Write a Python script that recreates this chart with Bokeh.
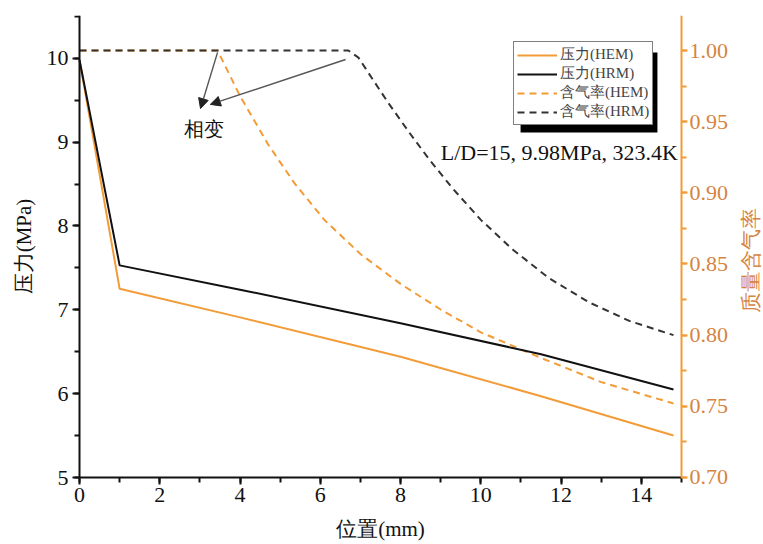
import math
from bokeh.plotting import figure
from bokeh.models import (Range1d, LinearAxis, SingleIntervalTicker, NumeralTickFormatter,
                          Legend, LegendItem, Label, Arrow, NormalHead, BoxAnnotation)
from bokeh.embed import file_html
from bokeh.resources import INLINE

# ---- data ----
x_p_hem = [0, 1, 4, 8, 11.5, 14.8]
p_hem = [9.98, 7.25, 6.91, 6.44, 5.97, 5.50]
x_p_hrm = [0, 1, 4, 8, 11.5, 14.8]
p_hrm = [9.98, 7.53, 7.24, 6.84, 6.47, 6.05]
x_q_hem = [0, 3.44, 4.0, 4.7, 5.35, 6.1, 7.0, 8.0, 9.0, 10.0, 11.5, 13.0, 14.8]
q_hem = [1.0, 1.0, 0.968, 0.934, 0.907, 0.881, 0.857, 0.836, 0.818, 0.802, 0.784, 0.767, 0.752]
x_q_hrm = [0, 6.7, 6.95, 7.3, 7.7, 8.2, 8.7, 9.3, 10.0, 10.8, 11.7, 12.7, 13.7, 14.8]
q_hrm = [1.0, 1.0, 0.995, 0.980, 0.963, 0.943, 0.924, 0.903, 0.881, 0.860, 0.840, 0.823, 0.810, 0.800]
series_labels = ["压力(HEM)", "压力(HRM)", "含气率(HEM)", "含气率(HRM)"]
x_label = "位置(mm)"
y_label = "压力(MPa)"
y2_label = "质量含气率"
note_text = "L/D=15, 9.98MPa, 323.4K"
phase_text = "相变"
x_min, x_max = 0, 15
p_min, p_max = 5, 10.51
q_min, q_max = 0.7, 1.0246

FONT = "Liberation Serif"
ORANGE = "#F39B37"
ORANGE_TXT = "#D6843F"
BLACK = "#111111"
DARK = "#333333"

# the frame covers the whole canvas below the top margin; axes are pinned at x=0, x=15 and p=5
p = figure(width=763, height=544, output_backend="svg", toolbar_location=None,
           x_range=Range1d(-1.9686, 17.043), y_range=Range1d(4.201, p_max),
           min_border_left=0, min_border_right=0, min_border_top=15, min_border_bottom=0)
p.extra_y_ranges = {"q": Range1d(0.6529, q_max)}
p.grid.visible = False
p.outline_line_color = None
p.background_fill_color = "white"
p.border_fill_color = "white"

def style_axis(ax, color, label_color):
    ax.axis_line_color = color
    ax.axis_line_width = 2
    ax.major_tick_line_color = color
    ax.major_tick_line_width = 2
    ax.minor_tick_line_color = color
    ax.minor_tick_line_width = 2
    ax.major_tick_in = 0
    ax.major_tick_out = 7
    ax.minor_tick_in = 0
    ax.minor_tick_out = 5
    ax.major_label_text_font = FONT
    ax.major_label_text_font_size = "22px"
    ax.major_label_text_color = label_color
    ax.axis_label_text_font = FONT
    ax.axis_label_text_font_size = "21px"
    ax.axis_label_text_font_style = "normal"
    ax.axis_label_text_color = label_color

xa = p.xaxis[0]
xa.ticker = SingleIntervalTicker(interval=2, num_minor_ticks=2)
xa.bounds = (x_min, x_max)
xa.fixed_location = p_min
xa.axis_label = x_label
style_axis(xa, BLACK, BLACK)
xa.major_label_standoff = 3
xa.axis_label_standoff = 12

ya = p.yaxis[0]
ya.ticker = SingleIntervalTicker(interval=1, num_minor_ticks=2)
ya.bounds = (p_min, p_max)
ya.fixed_location = x_min
ya.axis_label = y_label
style_axis(ya, BLACK, BLACK)
ya.major_label_standoff = 4
ya.axis_label_standoff = 8

ra = LinearAxis(y_range_name="q", ticker=SingleIntervalTicker(interval=0.05, num_minor_ticks=2),
                formatter=NumeralTickFormatter(format="0.00"), fixed_location=x_max,
                bounds=(q_min, q_max))
style_axis(ra, ORANGE, ORANGE_TXT)
ra.major_tick_out = 6
ra.major_label_standoff = 2
p.add_layout(ra, "right")

# right-axis title, reading bottom-to-top
p.add_layout(Label(x=16.72, y=7.59, text=y2_label, angle=math.pi / 2,
                   text_align="center", text_baseline="middle",
                   text_font=FONT, text_font_size="21px", text_color=ORANGE_TXT))

r_qhem = p.line(x_q_hem, q_hem, y_range_name="q", line_color=ORANGE, line_width=2, line_dash="7 5")
r_qhrm = p.line(x_q_hrm, q_hrm, y_range_name="q", line_color=DARK, line_width=2, line_dash="7 5")
r_phem = p.line(x_p_hem, p_hem, line_color=ORANGE, line_width=2)
r_phrm = p.line(x_p_hrm, p_hrm, line_color=BLACK, line_width=2)

# annotations
p.add_layout(Arrow(end=NormalHead(size=10, fill_color="#222", line_color="#222"),
                   x_start=3.44, y_start=10.07, x_end=3.015, y_end=9.40,
                   line_color="#555", line_width=1.4))
p.add_layout(Arrow(end=NormalHead(size=10, fill_color="#222", line_color="#222"),
                   x_start=6.63, y_start=9.985, x_end=3.26, y_end=9.45,
                   line_color="#555", line_width=1.4))
p.add_layout(Label(x=3.09, y=9.16, text=phase_text, text_align="center", text_baseline="middle",
                   text_font=FONT, text_font_size="20px", text_color=BLACK))
p.add_layout(Label(x=9.0, y=8.876, text=note_text, text_align="left", text_baseline="middle",
                   text_font=FONT, text_font_size="22px", text_color=BLACK))

# legend shadow
p.add_layout(BoxAnnotation(left=10.99, right=14.40, bottom=9.114, top=10.069,
                           fill_color="black", fill_alpha=1.0, line_color=None))

legend = Legend(items=[LegendItem(label=series_labels[0], renderers=[r_phem]),
                       LegendItem(label=series_labels[1], renderers=[r_phrm]),
                       LegendItem(label=series_labels[2], renderers=[r_qhem]),
                       LegendItem(label=series_labels[3], renderers=[r_qhrm])],
                location=(513, 419), padding=3, spacing=0, margin=0,
                glyph_width=40, glyph_height=18, label_height=18, label_standoff=3,
                label_text_font=FONT, label_text_font_size="15px",
                border_line_color="black", border_line_width=1.5,
                background_fill_color="white", background_fill_alpha=1.0)
p.add_layout(legend)

open("out.html", "w").write(file_html(p, INLINE))
